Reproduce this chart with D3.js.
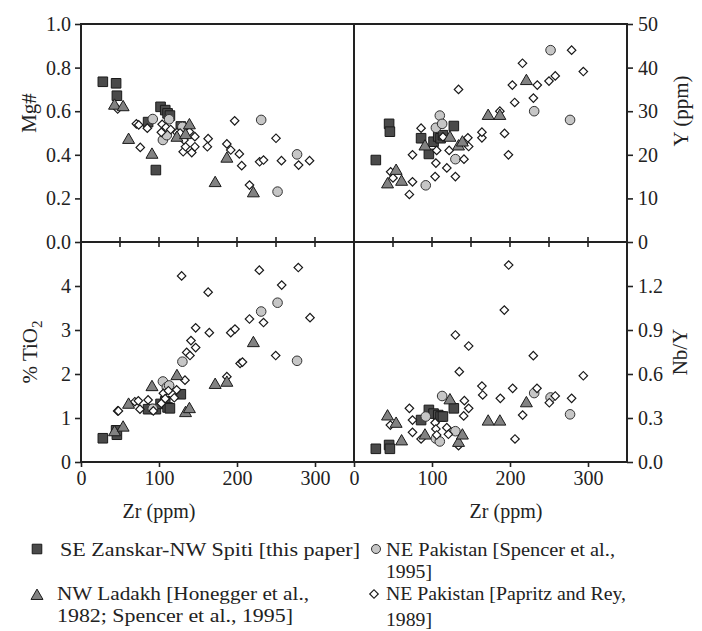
<!DOCTYPE html>
<html><head><meta charset="utf-8">
<script src="https://cdn.jsdelivr.net/npm/d3@7"></script>
<style>
body{margin:0;background:#fff;}
svg{display:block;}
text{font-family:"Liberation Serif","Times New Roman",serif;fill:#222;}
</style></head>
<body>
<svg id="chart" width="702" height="631"></svg>
<script>
// ---------- data ----------
const zanskarZr   = [28, 45, 46, 86, 96, 102, 108, 111, 114, 128];
const zanskarMg   = [0.735, 0.728, 0.671, 0.55, 0.33, 0.62, 0.605, 0.59, 0.58, 0.53];
const zanskarY    = [18.8, 27.1, 25.3, 23.8, 20.2, 23.0, 24.2, 23.8, 24.5, 26.6];
const zanskarTiO2 = [0.54, 0.72, 0.62, 1.2, 1.2, 1.32, 1.38, 1.24, 1.22, 1.54];
const zanskarNbY  = [0.09, 0.116, 0.09, 0.286, 0.355, 0.33, 0.32, 0.31, 0.31, 0.366];

const ladakhZr   = [43, 54, 61, 91, 123, 134, 139, 172, 187, 221];
const ladakhMg   = [0.625, 0.618, 0.468, 0.40, 0.478, 0.49, 0.535, 0.27, 0.382, 0.223];
const ladakhY    = [13.2, 16.3, 13.8, 21.9, 23.9, 21.9, 22.8, 28.9, 28.9, 36.9];
const ladakhTiO2 = [0.675, 0.78, 1.3, 1.70, 1.95, 1.11, 1.2, 1.75, 1.80, 2.70];
const ladakhNbY  = [0.31, 0.26, 0.14, 0.18, 0.42, 0.13, 0.18, 0.275, 0.275, 0.40];

const spencerZr   = [92, 105, 110, 113, 130, 231, 252, 277];
const spencerMg   = [0.564, 0.468, 0.49, 0.563, 0.528, 0.56, 0.231, 0.402];
const spencerY    = [13.0, 26.2, 29.0, 27.1, 19.0, 30.0, 44.0, 28.0];
const spencerTiO2 = [1.21, 1.83, 1.70, 1.74, 2.28, 3.42, 3.62, 2.30];
const spencerNbY  = [0.31, 0.16, 0.14, 0.45, 0.21, 0.47, 0.44, 0.325];

// Papritz and Rey (Zr, value) pairs per panel
const papritzMg = [[47,0.61],[71,0.542],[74,0.537],[85,0.522],[76,0.434],[104,0.54],[103,0.503],[109,0.526],[115,0.516],[123,0.502],[127,0.5],[131,0.414],[134,0.437],[132,0.468],[139,0.506],[142,0.41],[146,0.483],[146,0.437],[163,0.474],[162,0.437],[187,0.45],[192,0.422],[197,0.556],[203,0.404],[206,0.35],[216,0.261],[229,0.368],[234,0.376],[250,0.476],[257,0.373],[279,0.353],[293,0.373]];
const papritzY = [[47,16.1],[50,14.7],[71,10.9],[75,13.8],[75,20.0],[86,26.1],[104,15.0],[105,18.1],[106,21.0],[114,24.1],[119,17.0],[122,21.0],[130,15.0],[134,35.0],[141,19.0],[147,21.9],[146,23.9],[164,23.9],[164,25.2],[187,30.0],[193,24.9],[198,20.0],[203,36.0],[206,32.0],[216,41.0],[230,33.0],[235,36.0],[250,36.9],[258,38.1],[279,44.0],[294,39.1]];
const papritzTiO2 = [[47,1.16],[48,1.16],[69,1.37],[73.5,1.39],[75.6,1.20],[86,1.41],[92.7,1.16],[103,1.33],[105.6,1.56],[108,1.44],[112,1.62],[119.6,1.46],[122.6,1.64],[133.3,1.86],[129,4.23],[135.5,2.49],[139.7,2.42],[141,2.76],[147,3.05],[147,2.60],[163,3.86],[164.5,2.94],[187,1.94],[192,2.94],[197.4,3.02],[204,2.24],[207,2.27],[216,3.25],[228.6,4.36],[234,3.17],[249.6,2.42],[257.3,4.02],[278.6,4.42],[293.6,3.28]];
const papritzNbY = [[46.6,0.252],[71,0.366],[75,0.286],[75,0.202],[86,0.157],[104,0.268],[105,0.225],[106,0.184],[119,0.234],[121,0.189],[130,0.866],[135,0.616],[134,0.111],[141.5,0.418],[140.6,0.314],[147,0.366],[147,0.791],[164,0.518],[165,0.457],[187.6,0.434],[192.7,1.036],[198.3,1.343],[203.4,0.502],[206.4,0.157],[216.2,0.32],[229.9,0.725],[234.6,0.502],[250.4,0.404],[258,0.45],[279,0.434],[294,0.588]];

const xTicks = [0, 100, 200, 300];
const midTicks = [50, 100, 150, 200, 250, 300];
const mgTicks = [0, 0.2, 0.4, 0.6, 0.8, 1.0];
const yTicks = [0, 10, 20, 30, 40, 50];
const tiTicks = [0, 1, 2, 3, 4];
const nbTicks = [0, 0.3, 0.6, 0.9, 1.2];

const legendLabels = [
  ["SE Zanskar-NW Spiti [this paper]"],
  ["NE Pakistan [Spencer et al.,", "1995]"],
  ["NW Ladakh [Honegger et al.,", "1982; Spencer et al., 1995]"],
  ["NE Pakistan [Papritz and Rey,", "1989]"]
];

// ---------- layout ----------
const svg = d3.select("#chart");
const L = 81, M = 354, R = 627, T = 24, MID = 242, B = 462;

const xL = d3.scaleLinear().domain([0, 350]).range([L, M]);
const xR = d3.scaleLinear().domain([0, 350]).range([M, R]);
const yMg = d3.scaleLinear().domain([0, 1]).range([MID, T]);
const yY  = d3.scaleLinear().domain([0, 50]).range([MID, T]);
const yTi = d3.scaleLinear().domain([0, 5]).range([B, MID]);
const yNb = d3.scaleLinear().domain([0, 1.5]).range([B, MID]);

const FS = 20;

function styleAxis(g) {
  g.attr("font-family", null).attr("font-size", null);
  g.select(".domain").remove();
  g.selectAll(".tick line").attr("stroke", "#222").attr("stroke-width", 1.6);
  g.selectAll(".tick text").attr("font-size", FS).attr("fill", "#222");
}

svg.append("g").attr("transform", `translate(${L},0)`)
  .call(d3.axisLeft(yMg).tickValues(mgTicks).tickFormat(d3.format(".1f")).tickSize(6).tickPadding(4)).call(styleAxis);
svg.append("g").attr("transform", `translate(${L},0)`)
  .call(d3.axisLeft(yTi).tickValues(tiTicks).tickFormat(d3.format("d")).tickSize(6).tickPadding(4)).call(styleAxis);
svg.append("g").attr("transform", `translate(${R},0)`)
  .call(d3.axisRight(yY).tickValues(yTicks).tickFormat(d3.format("d")).tickSize(6).tickPadding(5)).call(styleAxis);
svg.append("g").attr("transform", `translate(${R},0)`)
  .call(d3.axisRight(yNb).tickValues(nbTicks).tickFormat(d3.format(".1f")).tickSize(6).tickPadding(5)).call(styleAxis);
svg.append("g").attr("transform", `translate(0,${B})`)
  .call(d3.axisBottom(xL).tickValues(xTicks).tickFormat(d3.format("d")).tickSize(5).tickPadding(4)).call(styleAxis);
svg.append("g").attr("transform", `translate(0,${B})`)
  .call(d3.axisBottom(xR).tickValues(xTicks).tickFormat(d3.format("d")).tickSize(5).tickPadding(4)).call(styleAxis);

// middle ticks crossing the shared boundary
[xL, xR].forEach(xs => {
  svg.append("g").selectAll("line").data(midTicks).join("line")
    .attr("x1", d => xs(d)).attr("x2", d => xs(d))
    .attr("y1", MID - 5).attr("y2", MID + 5)
    .attr("stroke", "#222").attr("stroke-width", 1.6);
});

// frames
const frame = svg.append("g").attr("fill", "none").attr("stroke", "#222").attr("stroke-width", 2);
frame.append("rect").attr("x", L).attr("y", T).attr("width", R - L).attr("height", B - T);
frame.append("line").attr("x1", M).attr("x2", M).attr("y1", T).attr("y2", B);
frame.append("line").attr("x1", L).attr("x2", R).attr("y1", MID).attr("y2", MID);

// markers
const symSquare = d3.symbol().type(d3.symbolSquare).size(92);
const symTri = d3.symbol().type(d3.symbolTriangle).size(62);
const symDia = d3.symbol().type(d3.symbolSquare).size(36);
const C = {sq: "#4a4a4a", ci: "#c6c6c6", tr: "#828282"};

function drawSquares(g, xs, ys, zr, vals) {
  g.selectAll(null).data(zr.map((z, i) => [z, vals[i]])).join("path")
    .attr("d", symSquare).attr("transform", d => `translate(${xs(d[0])},${ys(d[1])})`)
    .attr("fill", C.sq).attr("stroke", "#1a1a1a").attr("stroke-width", 1);
}
function drawCircles(g, xs, ys, zr, vals) {
  g.selectAll(null).data(zr.map((z, i) => [z, vals[i]])).join("circle")
    .attr("cx", d => xs(d[0])).attr("cy", d => ys(d[1])).attr("r", 4.8)
    .attr("fill", C.ci).attr("stroke", "#333").attr("stroke-width", 1);
}
function drawTriangles(g, xs, ys, zr, vals) {
  g.selectAll(null).data(zr.map((z, i) => [z, vals[i]])).join("path")
    .attr("d", symTri).attr("transform", d => `translate(${xs(d[0])},${ys(d[1])})`)
    .attr("fill", C.tr).attr("stroke", "#1a1a1a").attr("stroke-width", 1);
}
function drawDiamonds(g, xs, ys, pairs) {
  g.selectAll(null).data(pairs).join("path")
    .attr("d", symDia).attr("transform", d => `translate(${xs(d[0])},${ys(d[1])}) rotate(45)`)
    .attr("fill", "#fff").attr("stroke", "#1a1a1a").attr("stroke-width", 1.2);
}

const panels = [
  [xL, yMg, zanskarMg, spencerMg, papritzMg, ladakhMg],
  [xR, yY, zanskarY, spencerY, papritzY, ladakhY],
  [xL, yTi, zanskarTiO2, spencerTiO2, papritzTiO2, ladakhTiO2],
  [xR, yNb, zanskarNbY, spencerNbY, papritzNbY, ladakhNbY]
];
panels.forEach(([xs, ys, zs, sp, pp, ld]) => {
  const g = svg.append("g");
  drawSquares(g.append("g"), xs, ys, zanskarZr, zs);
  drawCircles(g.append("g"), xs, ys, spencerZr, sp);
  drawDiamonds(g.append("g"), xs, ys, pp);
  drawTriangles(g.append("g"), xs, ys, ladakhZr, ld);
});

// axis titles
function vTitle(x, y, parts) {
  const t = svg.append("text").attr("transform", `translate(${x},${y}) rotate(-90)`)
    .attr("text-anchor", "middle").attr("font-size", 21);
  parts.forEach(p => {
    const ts = t.append("tspan").text(p.t);
    if (p.sub) ts.attr("font-size", 15).attr("dy", "0.3em");
  });
}
vTitle(36, 113, [{t: "Mg#"}]);
vTitle(37, 352, [{t: "% TiO"}, {t: "2", sub: true}]);
vTitle(688, 111, [{t: "Y (ppm)"}]);
vTitle(687, 352, [{t: "Nb/Y"}]);

svg.append("text").attr("x", 159).attr("y", 518).attr("text-anchor", "middle").attr("font-size", 20).text("Zr (ppm)");
svg.append("text").attr("x", 506).attr("y", 518).attr("text-anchor", "middle").attr("font-size", 20).text("Zr (ppm)");

// legend
const leg = svg.append("g");
const legPos = [[37, 549], [376, 549], [37, 596], [374, 594]];
const legLines = [
  [[60, 556, 300]],
  [[386, 556, 229], [386, 578, 46]],
  [[57, 600, 252], [57, 622, 236]],
  [[386, 600, 240], [386, 626, 46]]
];
leg.append("path").attr("d", symSquare).attr("transform", `translate(${legPos[0][0]},${legPos[0][1]})`)
  .attr("fill", C.sq).attr("stroke", "#1a1a1a");
leg.append("circle").attr("cx", legPos[1][0]).attr("cy", legPos[1][1]).attr("r", 4.5)
  .attr("fill", C.ci).attr("stroke", "#333");
leg.append("path").attr("d", symTri).attr("transform", `translate(${legPos[2][0]},${legPos[2][1]})`)
  .attr("fill", C.tr).attr("stroke", "#1a1a1a");
leg.append("path").attr("d", symDia).attr("transform", `translate(${legPos[3][0]},${legPos[3][1]}) rotate(45)`)
  .attr("fill", "#fff").attr("stroke", "#1a1a1a").attr("stroke-width", 1.2);
legendLabels.forEach((lines, i) => {
  lines.forEach((s, j) => {
    const [x, y, w] = legLines[i][j];
    leg.append("text").attr("x", x).attr("y", y)
      .attr("font-size", 19).attr("textLength", w).attr("lengthAdjust", "spacingAndGlyphs").text(s);
  });
});
</script>
</body></html>
